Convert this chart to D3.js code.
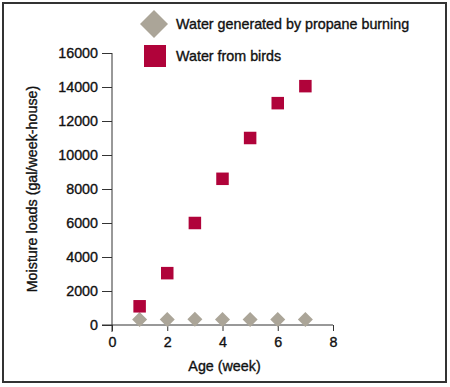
<!DOCTYPE html>
<html><head><meta charset="utf-8">
<script src="https://cdn.jsdelivr.net/npm/d3@7/dist/d3.min.js"></script>
<style>body{margin:0;background:#fff}svg{display:block}text{font-family:"Liberation Sans",Arial,Helvetica,sans-serif;fill:#111;stroke:#111;stroke-width:0.35px}</style>
</head><body><svg id="c" width="450" height="387"></svg>
<script>
const weeks = [1, 2, 3, 4, 5, 6, 7];
const birds = [1100, 3050, 6000, 8600, 11000, 13050, 14050];
const propane = [330, 320, 340, 320, 320, 320, 320];
const xTicks = [0, 2, 4, 6, 8];
const yTicks = [0, 2000, 4000, 6000, 8000, 10000, 12000, 14000, 16000];
const seriesNames = ["Water generated by propane burning", "Water from birds"];
const colors = {propane: "#aba598", birds: "#b0033a"};

const svg = d3.select("#c");
svg.append("rect").attr("x", 3).attr("y", 3).attr("width", 443).attr("height", 379)
  .attr("fill", "none").attr("stroke", "#333").attr("stroke-width", 2);

const x = d3.scaleLinear().domain([0, 8]).range([112, 333]);
const y = d3.scaleLinear().domain([0, 16000]).range([325, 53]);
const fs = "14.3px";

// y axis
const ya = svg.append("g").attr("transform", `translate(${x(0)},0)`)
  .call(d3.axisLeft(y).tickValues(yTicks).tickSize(10).tickPadding(4).tickFormat(d3.format("d")));
ya.select(".domain").remove();
ya.selectAll("line").attr("stroke", "#333");
ya.selectAll("text").style("font-size", fs).attr("fill", "#111");
svg.append("line").attr("x1", x(0)).attr("x2", x(0)).attr("y1", y(16000)).attr("y2", y(0) + 7).attr("stroke", "#333");

// x axis
const xa = svg.append("g").attr("transform", `translate(0,${y(0)})`)
  .call(d3.axisBottom(x).tickValues(xTicks).tickSize(6).tickPadding(6).tickFormat(d3.format("d")));
xa.select(".domain").remove();
xa.selectAll("line").attr("stroke", "#333");
xa.selectAll("text").style("font-size", fs).attr("fill", "#111");
svg.append("line").attr("x1", x(0) - 10).attr("x2", x(8)).attr("y1", y(0)).attr("y2", y(0)).attr("stroke", "#333");

// axis titles
svg.append("text").attr("x", (x(0) + x(8)) / 2 + 2).attr("y", 371).attr("text-anchor", "middle")
  .style("font-size", fs).text("Age (week)");
svg.append("text").attr("transform", `translate(37,${(y(0) + y(16000)) / 2}) rotate(-90)`)
  .attr("text-anchor", "middle").style("font-size", fs).text("Moisture loads (gal/week-house)");

// propane diamonds
const dsz = 7.5;
svg.append("g").selectAll("path").data(weeks).join("path")
  .attr("d", (d, i) => `M${x(d)},${y(propane[i]) - dsz}L${x(d) + dsz},${y(propane[i])}L${x(d)},${y(propane[i]) + dsz}L${x(d) - dsz},${y(propane[i])}Z`)
  .attr("fill", colors.propane);

// bird squares
const ss = 12.5;
svg.append("g").selectAll("rect").data(weeks).join("rect")
  .attr("x", d => x(d) - ss / 2).attr("y", (d, i) => y(birds[i]) - ss / 2)
  .attr("width", ss).attr("height", ss).attr("fill", colors.birds);

// legend
const lg = svg.append("g");
const ld = 14, lcx = 154, lcy = 24;
lg.append("path").attr("d", `M${lcx},${lcy - ld}L${lcx + ld},${lcy}L${lcx},${lcy + ld}L${lcx - ld},${lcy}Z`).attr("fill", colors.propane);
lg.append("text").attr("x", 176).attr("y", lcy + 5).style("font-size", fs).text(seriesNames[0]);
lg.append("rect").attr("x", 144).attr("y", 45).attr("width", 22).attr("height", 22).attr("fill", colors.birds);
lg.append("text").attr("x", 176).attr("y", 61).style("font-size", fs).text(seriesNames[1]);
</script></body></html>
